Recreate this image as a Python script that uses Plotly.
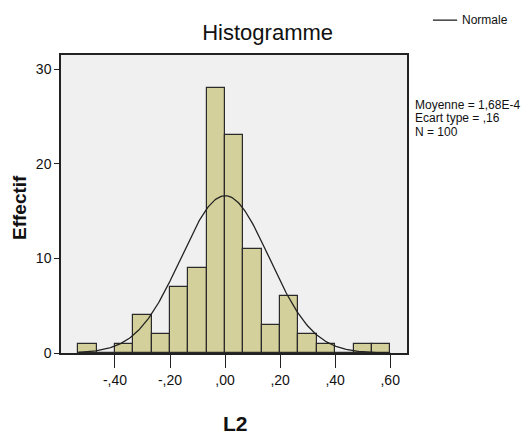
import numpy as np
import plotly.graph_objects as go

# ---- data ----
bin_width = 1 / 15
bin_centers = [-0.5 + i * (1 / 15) for i in range(17)]
counts = [1, 0, 1, 4, 2, 7, 9, 28, 23, 11, 3, 6, 2, 1, 0, 1, 1]
mean_val = 1.68e-4
sd_val = 0.16
n_val = 100
x_tickvals = [-0.4, -0.2, 0.0, 0.2, 0.4, 0.6]
x_ticktext = ["-,40", "-,20", ",00", ",20", ",40", ",60"]
y_tickvals = [0, 10, 20, 30]
stats_lines = ["Moyenne = 1,68E-4", "Ecart type = ,16", "N = 100"]
legend_label = "Normale"
x_title = "L2"
y_title = "Effectif"

FONT = "Liberation Sans, Arial, sans-serif"

fig = go.Figure()
fig.add_trace(go.Bar(
    x=bin_centers, y=counts, width=bin_width,
    marker=dict(color="#d4d09b", line=dict(color="#2a2a2a", width=1.2)),
    showlegend=False, hoverinfo="skip",
))

xc = np.linspace(bin_centers[0] - bin_width / 2, bin_centers[-1] + bin_width / 2, 300)
yc = n_val * bin_width / (sd_val * np.sqrt(2 * np.pi)) * np.exp(-0.5 * ((xc - mean_val) / sd_val) ** 2)
fig.add_trace(go.Scatter(
    x=xc, y=yc, mode="lines", line=dict(color="#222222", width=1.3),
    name=legend_label, showlegend=False, hoverinfo="skip",
))

fig.update_layout(
    width=530, height=437,
    margin=dict(l=61, r=123, t=55, b=84),
    paper_bgcolor="white", plot_bgcolor="#f0f0f0",
    bargap=0,
    font=dict(family=FONT, color="#111111", size=14),
    title=dict(text="Histogramme", x=0.505, xanchor="center", y=0.927, yanchor="middle",
               font=dict(family=FONT, size=22, color="#111111")),
    xaxis=dict(range=[-0.596, 0.661], tickvals=x_tickvals, ticktext=x_ticktext,
               ticks="outside", ticklen=13, tickwidth=1.2, tickcolor="#222",
               showgrid=False, zeroline=False, showline=True, linecolor="#222", linewidth=1.5,
               mirror=True, tickfont=dict(size=14, family=FONT), automargin=False),
    yaxis=dict(range=[0, 31.5], tickvals=y_tickvals,
               ticks="outside", ticklen=5, tickwidth=1.2, tickcolor="#222",
               showgrid=False, zeroline=False, showline=True, linecolor="#222", linewidth=1.5,
               mirror=True, tickfont=dict(size=14, family=FONT), automargin=False),
)

# axis titles
fig.add_annotation(x=0.503, y=-0.235, xref="paper", yref="paper",
                   xanchor="center", yanchor="middle", showarrow=False,
                   text="<b>" + x_title + "</b>", font=dict(family=FONT, size=21, color="#111111"))
fig.add_annotation(x=-0.1185, y=0.49, xref="paper", yref="paper",
                   xanchor="center", yanchor="middle", showarrow=False, textangle=-90,
                   text="<b>" + y_title + "</b>", font=dict(family=FONT, size=19, color="#111111"))

# stats text lines
for line_text, ypos in zip(stats_lines, [0.832, 0.787, 0.742]):
    fig.add_annotation(
        x=1.018, y=ypos, xref="paper", yref="paper", xanchor="left", yanchor="middle",
        text=line_text, align="left", showarrow=False,
        font=dict(family=FONT, size=12, color="#111111"),
    )

# manual legend
fig.add_shape(type="line", xref="paper", yref="paper",
              x0=1.075, x1=1.145, y0=1.117, y1=1.117,
              line=dict(color="#222222", width=1.3))
fig.add_annotation(
    x=1.153, y=1.117, xref="paper", yref="paper", xanchor="left", yanchor="middle",
    text=legend_label, showarrow=False,
    font=dict(family=FONT, size=12, color="#111111"),
)

fig.write_html("out.html")
